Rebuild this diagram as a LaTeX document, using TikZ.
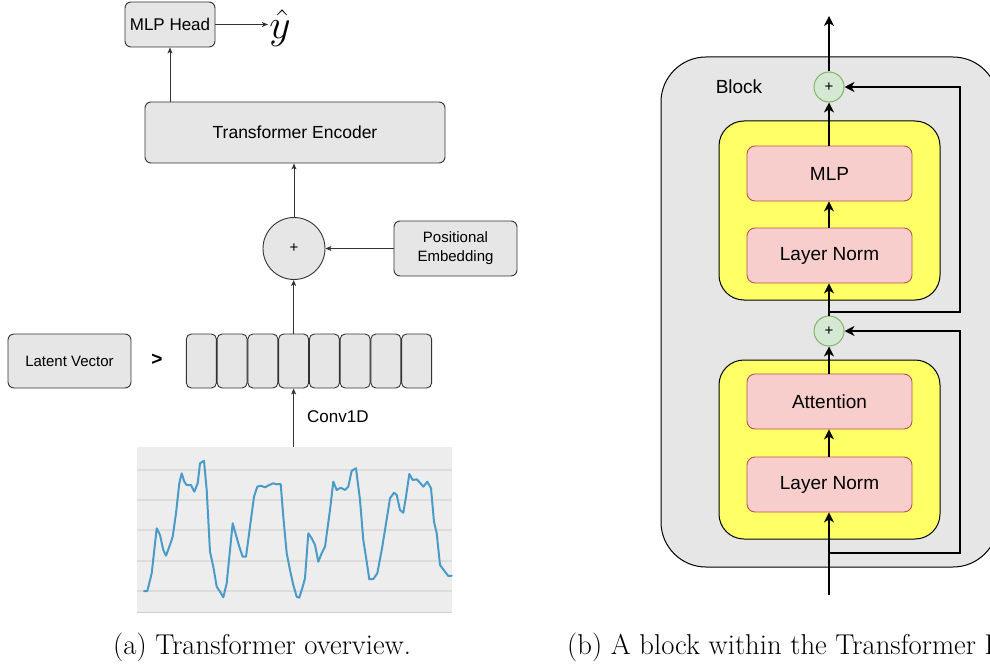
\documentclass[tikz,border=0pt]{standalone}
\usepackage{fontspec}
\usetikzlibrary{arrows.meta}
\newfontfamily\arial{Liberation Sans}
\newcommand\fsz[1]{\fontsize{#1}{#1}\selectfont}
\definecolor{boxgray}{HTML}{E6E6E6}
\definecolor{edgegray}{HTML}{333333}
\definecolor{chartbg}{HTML}{EDEDED}
\definecolor{gridgray}{HTML}{DCDCDC}
\definecolor{axisgray}{HTML}{CFCFCF}
\definecolor{curveblue}{HTML}{4A9BC8}
\definecolor{yel}{HTML}{FFFF66}
\definecolor{pinkfill}{HTML}{F8CECC}
\definecolor{pinkedge}{HTML}{B85450}
\definecolor{greenfill}{HTML}{D5E8D4}
\definecolor{greenedge}{HTML}{82B366}
\begin{document}
\begin{tikzpicture}[x=1pt,y=-1pt,
  lbox/.style={draw=edgegray, fill=boxgray, rounded corners=6pt, line width=0.9pt,
    inner sep=0pt, font=\arial\fsz{15}},
  tok/.style={lbox, minimum width=30pt, minimum height=54pt, rounded corners=5pt},
  larrow/.style={draw=edgegray, line width=0.9pt, -{Stealth[length=6pt,width=5pt,inset=1.5pt]}},
  rarrow/.style={draw=black, line width=1.3pt, -{Stealth[length=10pt,width=10pt,inset=3pt]}},
  pinkbox/.style={draw=pinkedge, fill=pinkfill, rounded corners=8pt, line width=0.9pt,
    minimum width=165pt, minimum height=55pt, inner sep=0pt, font=\arial\fsz{19}},
  yelbox/.style={draw=black, fill=yel, rounded corners=25pt, line width=1pt,
    minimum width=221pt, minimum height=179pt},
  addnode/.style={circle, draw=greenedge, fill=greenfill, line width=1pt,
    minimum size=30pt, inner sep=0pt, font=\arial\fsz{15}},
  captext/.style={anchor=base west, inner sep=0pt, font=\fsz{28.7}}
]
\useasboundingbox (0,0) rectangle (990,666);

% ---------- (a) overview ----------
\node[lbox, minimum width=90pt, minimum height=45pt, font=\arial\fsz{17}] (head) at (170,24.5) {MLP Head};
\node[inner sep=0.5pt, scale=2] (yhat) at (280,28) {\fontsize{20.74}{24}\selectfont$\hat{y}$};
\draw[larrow] (head.east) -- (head.east -| yhat.west);

\node[lbox, minimum width=300pt, minimum height=61pt, font=\arial\fsz{17.5}] (enc) at (295,132.5) {Transformer Encoder};
\draw[larrow] (enc.north -| head.south) -- (head.south);

\node[circle, draw=edgegray, fill=boxgray, line width=0.9pt, minimum size=62pt, inner sep=0pt,
  font=\arial\fsz{15}] (plus) at (294,248.5) {+};
\draw[larrow] (plus.north) -- (plus.north |- enc.south);

\node[lbox, minimum width=123pt, minimum height=55pt, align=center,
  font=\arial\fontsize{15}{19}\selectfont] (pos) at (455.5,248.5) {Positional\\Embedding};
\draw[larrow] (pos.west) -- (plus.east);

\node[lbox, minimum width=123pt, minimum height=54pt] (latent) at (69.5,361) {Latent Vector};
\node[font=\arial\bfseries\fsz{19}, inner sep=0pt] (gt) at (157,360) {>};

\foreach \i in {1,...,8}{
  \node[tok] (tok\i) at ({186+15.375+30.75*(\i-1)},361) {};
}
\draw[larrow] (tok4.north) -- (tok4.north |- plus.south);

% time series chart
\node[fill=chartbg, minimum width=315pt, minimum height=166pt, inner sep=0pt] (chart) at (294.5,530) {};
\foreach \gy in {470,500,530,561,591}{
  \draw[gridgray, line width=1.3pt] (137,\gy) -- (452,\gy);
}
\draw[axisgray, line width=1.5pt] (137,612.5) -- (452,612.5);
\draw[curveblue, line width=2pt, line join=round, line cap=round]
  (144,591) -- (147.3,591) -- (151.7,573.3) -- (156.7,528.3) -- (160,535) -- (163.3,550)
  -- (166,555.7) -- (169.3,546.7) -- (172.7,536.7) -- (176,513.3) -- (179.3,483.3)
  -- (181.7,473.3) -- (184.3,481.7) -- (186.7,485) -- (191,485) -- (194.3,491.7)
  -- (197.7,483.3) -- (200,463.3) -- (204,460.7) -- (206.7,490) -- (210,551.7)
  -- (213.3,566.7) -- (216.7,586.7) -- (220,591.7) -- (223.3,597.3) -- (226.7,583.3)
  -- (230,550) -- (232.7,523.3) -- (235,531.7) -- (239.3,546.7) -- (242.7,556.7)
  -- (246,556.7) -- (250,526.7) -- (254,496.7) -- (257.3,486.7) -- (260.7,485.7)
  -- (265,487.3) -- (269.3,485) -- (273.3,483.3) -- (276.7,484.3) -- (280.7,484)
  -- (283.3,516.7) -- (286.7,553.3) -- (290,570) -- (293.3,585) -- (296.7,596.7)
  -- (299.3,597.7) -- (302.7,586.7) -- (305,578.3) -- (308.3,533.3) -- (311.7,538.3)
  -- (315,545) -- (318.3,561.7) -- (321.7,553.3) -- (325,546.7) -- (330,510)
  -- (333.3,481.7) -- (336.7,490) -- (340.7,487.7) -- (345,490) -- (348.3,486.7)
  -- (351.7,470.7) -- (356,468.3) -- (360,500) -- (363.3,540) -- (366.7,561.7)
  -- (369.3,579.3) -- (373.3,579) -- (377.3,573.3) -- (381.7,550) -- (385,530)
  -- (390,498.3) -- (394,492.7) -- (396.7,495) -- (400,510) -- (403.3,512.7)
  -- (406,496.7) -- (409.3,474) -- (412.7,480) -- (416.7,479.3) -- (420,482.7)
  -- (423.3,486.7) -- (427.3,481.7) -- (431,488.3) -- (434,521.7) -- (436.7,533.3)
  -- (440,565) -- (445,571.7) -- (448.3,576) -- (451.7,575.7);
\draw[larrow] (chart.north -| tok4.south) -- (tok4.south);
\node[anchor=west, inner sep=0pt, font=\arial\fsz{17}] (conv) at (307,417) {Conv1D};

\node[captext] (capa) at (113,654) {(a) Transformer overview.};

% ---------- (b) one block ----------
\node[draw=black, fill=boxgray, rounded corners=45pt, line width=1pt,
  minimum width=337pt, minimum height=510pt] (block) at (829.5,312) {};
\node[font=\arial\fsz{19}, inner sep=0pt] (blocklbl) at (739,87) {Block};

\node[yelbox] (yel2) at (829.5,210.5) {};
\node[yelbox] (yel1) at (829.5,449.5) {};

\node[pinkbox] (mlp) at (829.5,173.5) {MLP};
\node[pinkbox] (ln2) at (829.5,255.5) {Layer Norm};
\node[pinkbox] (att) at (829.5,401.5) {Attention};
\node[pinkbox] (ln1) at (829.5,484.5) {Layer Norm};

\node[addnode] (add2) at (829,87) {+};
\node[addnode] (add1) at (829,331) {+};

\coordinate (in) at (829,595);
\coordinate (out) at (829,16);
\coordinate (res1) at (829,553);
\coordinate (res2) at (829,312);
\coordinate (rail) at (960,0);

\draw[rarrow] (in) -- (in |- ln1.south);
\draw[rarrow] (ln1.north -| in) -- (att.south -| in);
\draw[rarrow] (att.north -| in) -- (add1.south);
\draw[rarrow] (res1) -- (res1 -| rail) |- (add1.east);
\draw[rarrow] (add1.north) -- (add1.north |- ln2.south);
\draw[rarrow] (ln2.north -| in) -- (mlp.south -| in);
\draw[rarrow] (mlp.north -| in) -- (add2.south);
\draw[rarrow] (res2) -- (res2 -| rail) |- (add2.east);
\draw[rarrow] (add2.north) -- (out);

\node[captext] (capb) at (567,654) {(b) A block within the Transformer Encoder.};
\end{tikzpicture}
\end{document}
